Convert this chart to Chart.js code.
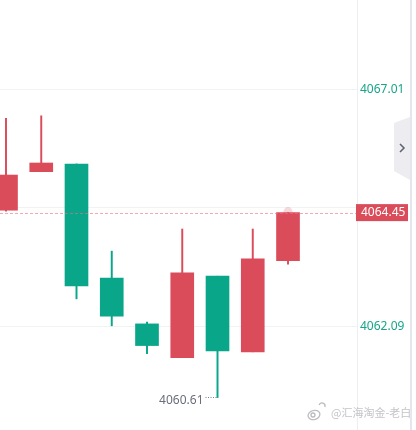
<!DOCTYPE html>
<html>
<head>
<meta charset="utf-8">
<script src="https://cdn.jsdelivr.net/npm/chart.js@4/dist/chart.umd.min.js"></script>
<style>
  html, body { margin: 0; padding: 0; background: #ffffff; }
  #wrap { width: 416px; height: 430px; position: relative; }
</style>
</head>
<body>
<div id="wrap"><canvas id="c" width="416" height="430"></canvas></div>
<script>
// ---- data ----
const candleIndex = [0, 1, 2, 3, 4, 5, 6, 7, 8];
const opens  = [4064.50, 4065.30, 4065.46, 4063.09, 4062.14, 4061.44, 4063.13, 4061.56, 4063.45];
const highs  = [4066.41, 4066.46, 4065.46, 4063.65, 4062.18, 4064.11, 4063.13, 4064.11, 4064.45];
const lows   = [4064.48, 4065.30, 4062.66, 4062.10, 4061.52, 4061.44, 4060.61, 4061.56, 4063.38];
const closes = [4065.23, 4065.48, 4062.93, 4062.30, 4061.69, 4063.20, 4061.58, 4063.49, 4064.45];
const yTickValues = [4062.09, 4064.55, 4067.01];
const yTickLabels = ["4062.09", "4064.55", "4067.01"];
const xGridValues = [4];
const lastPrice = 4064.45;
const lastPriceLabel = "4064.45";
const lowIndex = 6;
const lowLabel = "4060.61";
const watermark = "@汇海淘金-老白";

// ---- styles ----
const UP = '#db4c5a';
const DOWN = '#0aa68a';
const AXIS_TEXT = '#17a589';
const FONT = '"Noto Sans", "DejaVu Sans", sans-serif';

const colors = candleIndex.map(i => closes[i] >= opens[i] ? UP : DOWN);
const bodyData = candleIndex.map(i => ({ x: i, y: [opens[i], closes[i]] }));
const wickData = candleIndex.map(i => ({ x: i, y: [lows[i], highs[i]] }));

const overlay = {
  id: 'overlay',
  afterDatasetsDraw(chart) {
    const { ctx, chartArea, scales } = chart;
    const xs = scales.x, ys = scales.y;
    ctx.save();
    // pulsing dot on last candle
    const lx = xs.getPixelForValue(candleIndex[candleIndex.length - 1]);
    const ly = ys.getPixelForValue(lastPrice);
    ctx.fillStyle = 'rgba(219,76,90,0.22)';
    ctx.beginPath(); ctx.arc(lx, ly - 1, 4.5, 0, Math.PI * 2); ctx.fill();
    // dashed last price line
    ctx.strokeStyle = 'rgba(236,110,128,0.6)';
    ctx.lineWidth = 1;
    ctx.setLineDash([3, 2]);
    ctx.beginPath();
    ctx.moveTo(chartArea.left, Math.round(ly) + 0.5);
    ctx.lineTo(chartArea.right, Math.round(ly) + 0.5);
    ctx.stroke();
    ctx.setLineDash([]);
    // low label
    const wx = xs.getPixelForValue(lowIndex);
    const wy = ys.getPixelForValue(lows[lowIndex]);
    ctx.strokeStyle = '#7a7e8a';
    ctx.setLineDash([1, 1.5]);
    ctx.beginPath();
    ctx.moveTo(wx - 12, Math.round(wy) - 0.5);
    ctx.lineTo(wx - 1, Math.round(wy) - 0.5);
    ctx.stroke();
    ctx.setLineDash([]);
    ctx.font = '12px ' + FONT;
    ctx.fillStyle = '#6b6e79';
    ctx.textAlign = 'right';
    ctx.textBaseline = 'middle';
    ctx.fillText(lowLabel, wx - 14, wy + 3);
    ctx.restore();
  },
  afterDraw(chart) {
    const { ctx, chartArea, scales } = chart;
    const ys = scales.y;
    ctx.save();
    // last price box
    const ly = ys.getPixelForValue(lastPrice);
    ctx.fillStyle = UP;
    ctx.fillRect(chartArea.right - 1, ly - 8.5, 52, 17);
    ctx.font = '12px ' + FONT;
    ctx.fillStyle = '#ffffff';
    ctx.textAlign = 'left';
    ctx.textBaseline = 'middle';
    ctx.fillText(lastPriceLabel, chartArea.right + 4, ly);
    // right edge bar
    ctx.fillStyle = '#e4e6ed';
    ctx.fillRect(410, 0, 2, 430);
    // collapse tab
    ctx.fillStyle = '#ececf1';
    ctx.beginPath();
    ctx.moveTo(394, 123); ctx.lineTo(410, 117); ctx.lineTo(410, 180); ctx.lineTo(394, 171);
    ctx.closePath(); ctx.fill();
    ctx.strokeStyle = '#5d616d';
    ctx.lineWidth = 1.5;
    ctx.beginPath();
    ctx.moveTo(400, 144); ctx.lineTo(404, 148); ctx.lineTo(400, 152);
    ctx.stroke();
    // watermark
    ctx.font = '11px "Noto Sans CJK SC", sans-serif';
    ctx.textAlign = 'left';
    ctx.textBaseline = 'middle';
    ctx.shadowColor = 'rgba(255,255,255,1)';
    ctx.shadowBlur = 3;
    ctx.fillStyle = 'rgba(185,185,190,0.85)';
    ctx.fillText(watermark, 331, 413);
    ctx.strokeStyle = 'rgba(175,175,180,0.85)';
    ctx.lineWidth = 1.3;
    ctx.beginPath(); ctx.ellipse(314, 415, 6, 4.5, -0.3, 0, Math.PI * 2); ctx.stroke();
    ctx.beginPath(); ctx.arc(313, 415, 2, 0, Math.PI * 2); ctx.stroke();
    ctx.beginPath(); ctx.arc(322, 406, 3, Math.PI * 1.1, Math.PI * 0.1); ctx.stroke();
    ctx.restore();
  }
};

new Chart(document.getElementById('c'), {
  type: 'bar',
  data: {
    datasets: [
      {
        label: 'body',
        data: bodyData,
        backgroundColor: colors,
        borderWidth: 0,
        barThickness: 23,
        order: 0,
        grouped: false,
        borderSkipped: false
      },
      {
        label: 'wick',
        data: wickData,
        backgroundColor: colors,
        borderWidth: 0,
        barThickness: 1.3,
        order: 1,
        grouped: false,
        borderSkipped: false
      }
    ]
  },
  options: {
    responsive: false,
    animation: false,
    events: [],
    layout: { padding: 0 },
    plugins: { legend: { display: false }, tooltip: { enabled: false } },
    scales: {
      x: {
        type: 'linear',
        min: -0.170,
        max: 9.957,
        offset: false,
        afterBuildTicks: s => { s.ticks = xGridValues.map(v => ({ value: v })); },
        afterFit: s => { s.height = 0; s.paddingLeft = 0; s.paddingRight = 0; },
        ticks: { display: false },
        grid: { color: '#f1f2f5', drawTicks: false },
        border: { display: false }
      },
      y: {
        position: 'right',
        min: 4059.937,
        max: 4068.864,
        afterBuildTicks: s => { s.ticks = yTickValues.map(v => ({ value: v })); },
        afterFit: s => { s.width = 59; s.paddingTop = 0; s.paddingBottom = 0; },
        ticks: {
          padding: 3,
          color: AXIS_TEXT,
          font: { size: 12, family: FONT },
          callback: (v) => {
            const k = yTickValues.indexOf(v);
            if (k < 0) return '';
            if (Math.abs(v - lastPrice) < 0.3) return '';
            return yTickLabels[k];
          }
        },
        grid: { color: '#f1f2f5', drawTicks: false },
        border: { display: true, color: '#eceef2' }
      }
    }
  },
  plugins: [overlay]
});
</script>
</body>
</html>
